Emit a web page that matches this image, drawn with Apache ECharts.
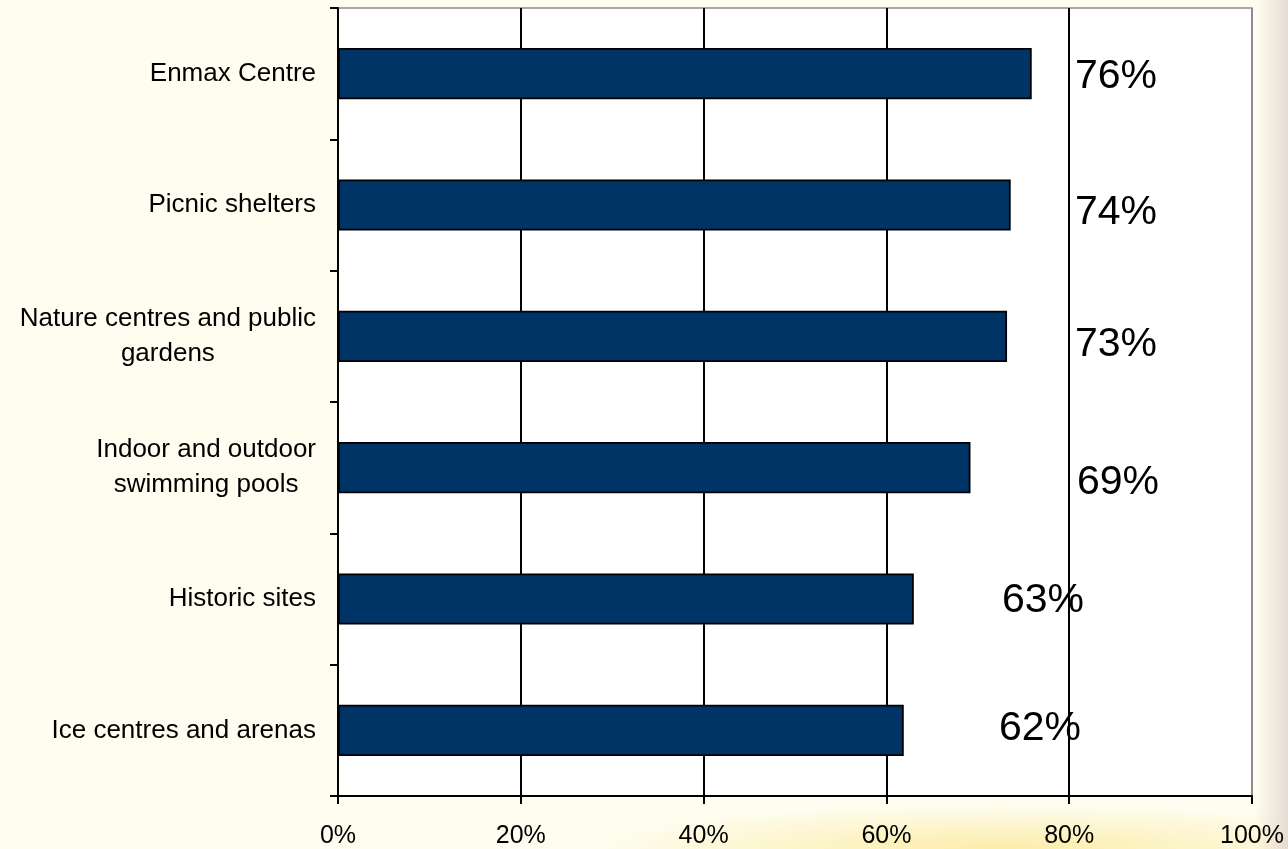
<!DOCTYPE html>
<html>
<head>
<meta charset="utf-8">
<script src="https://cdn.jsdelivr.net/npm/echarts@6/dist/echarts.min.js"></script>
<style>
  html, body { margin: 0; padding: 0; }
  body {
    width: 1288px; height: 849px; overflow: hidden;
    background:
      linear-gradient(to right, rgba(254,253,240,0) 0px, rgba(254,253,240,0) 1255px, rgba(226,214,206,0.85) 1288px),
      radial-gradient(ellipse 420px 45px at 1000px 849px, rgba(250,226,120,0.6), rgba(250,226,120,0)),
      #fefdf0;
  }
  #chart { width: 1288px; height: 849px; }
</style>
</head>
<body>
<div id="chart"></div>
<script>
const categories = [
  'Enmax Centre',
  'Picnic shelters',
  'Nature centres and public\ngardens',
  'Indoor and outdoor\nswimming pools',
  'Historic sites',
  'Ice centres and arenas'
];
const percentValues = [75.9, 73.6, 73.2, 69.2, 63.0, 61.9];
const xTicks = [0, 20, 40, 60, 80, 100];

// label placement (pixels from the bar's left end; vertical nudge)
const labelLeftPx = [737, 737, 737, 739, 664, 661];
const labelNudgeY = [3, 8, 8, 15, 2, -2];

const chart = echarts.init(document.getElementById('chart'));

const barData = percentValues.map((v, i) => ({
  value: v,
  label: {
    position: [labelLeftPx[i], '50%'],
    offset: [0, labelNudgeY[i]]
  }
}));

const FONT = 'Liberation Sans, Arial, sans-serif';

chart.setOption({
  backgroundColor: 'transparent',
  animation: false,
  grid: {
    left: 338, top: 8, right: 36, bottom: 53,
    show: true,
    backgroundColor: '#ffffff',
    borderColor: '#8c8c8c',
    borderWidth: 1.5
  },
  xAxis: {
    type: 'value',
    min: xTicks[0],
    max: xTicks[xTicks.length - 1],
    interval: xTicks[1] - xTicks[0],
    axisLine: { show: true, lineStyle: { color: '#000', width: 2 } },
    axisTick: { show: true, length: 8, lineStyle: { color: '#000', width: 2 } },
    axisLabel: {
      formatter: '{value}%',
      color: '#000',
      fontFamily: FONT,
      fontSize: 25,
      margin: 28
    },
    splitLine: {
      show: true,
      lineStyle: { color: ['#000', '#000', '#000', '#000', '#000', '#8c8c8c'], width: 2 }
    }
  },
  yAxis: {
    type: 'category',
    inverse: true,
    data: categories,
    axisLine: { show: true, lineStyle: { color: '#000', width: 2 } },
    axisTick: { show: true, length: 8, lineStyle: { color: '#000', width: 2 } },
    axisLabel: {
      color: '#000',
      fontFamily: FONT,
      fontSize: 26,
      lineHeight: 35,
      align: 'right',
      margin: 22,
      formatter: v => v.split('\n').map(l => '{c|' + l + '}').join('\n'),
      rich: {
        c: { align: 'center', color: '#000', fontFamily: FONT, fontSize: 26, lineHeight: 35 }
      }
    },
    splitLine: { show: false }
  },
  series: [{
    type: 'bar',
    data: barData,
    barWidth: '39%',
    itemStyle: { color: '#003366', borderColor: '#000', borderWidth: 1.8 },
    label: {
      show: true,
      color: '#000',
      fontFamily: FONT,
      fontSize: 41,
      align: 'left',
      verticalAlign: 'middle',
      formatter: p => Math.round(p.value) + '%'
    },
    z: 3
  }]
});
</script>
</body>
</html>
